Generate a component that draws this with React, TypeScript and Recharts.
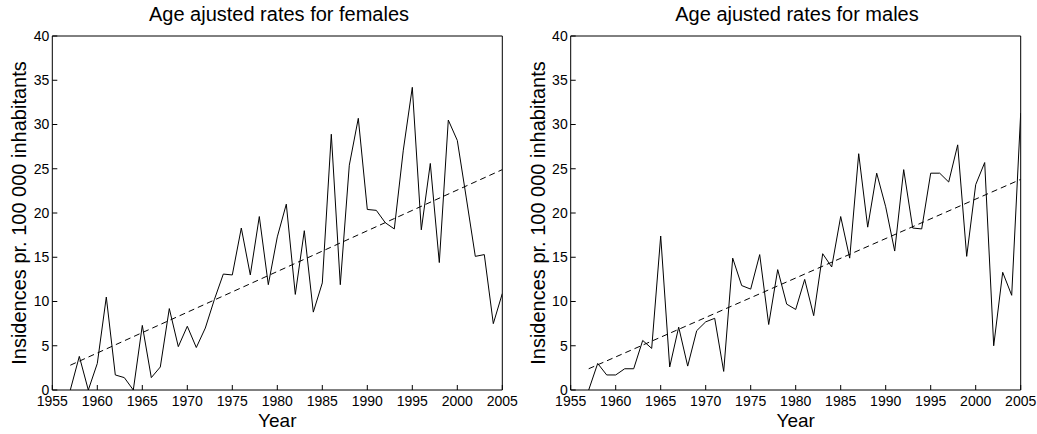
import React from 'react';
import { LineChart, Line, XAxis, YAxis } from 'recharts';

const years = [
  1957, 1958, 1959, 1960, 1961, 1962, 1963, 1964, 1965, 1966,
  1967, 1968, 1969, 1970, 1971, 1972, 1973, 1974, 1975, 1976,
  1977, 1978, 1979, 1980, 1981, 1982, 1983, 1984, 1985, 1986,
  1987, 1988, 1989, 1990, 1991, 1992, 1993, 1994, 1995, 1996,
  1997, 1998, 1999, 2000, 2001, 2002, 2003, 2004, 2005,
];

const femaleRates = [
  0, 3.8, 0, 3.0, 10.5, 1.7, 1.4, 0, 7.3, 1.4,
  2.6, 9.2, 4.9, 7.2, 4.8, 7.0, 10.2, 13.1, 13.0, 18.3,
  13.0, 19.6, 11.9, 17.3, 21.0, 10.8, 18.0, 8.8, 12.1, 28.9,
  11.9, 25.4, 30.7, 20.4, 20.3, 18.9, 18.2, 27.1, 34.2, 18.1,
  25.6, 14.4, 30.5, 28.2, 21.7, 15.1, 15.3, 7.5, 10.9,
];

const maleRates = [
  0, 3.0, 1.7, 1.7, 2.4, 2.4, 5.6, 4.7, 17.4, 2.6,
  7.1, 2.7, 6.7, 7.7, 8.1, 2.1, 14.9, 11.8, 11.4, 15.3,
  7.4, 13.6, 9.7, 9.1, 12.5, 8.4, 15.4, 13.9, 19.6, 14.9,
  26.7, 18.4, 24.5, 20.7, 15.7, 24.9, 18.3, 18.2, 24.5, 24.5,
  23.5, 27.7, 15.1, 23.2, 25.7, 5.0, 13.3, 10.7, 31.3,
];

const trendYears = [1957, 2005];
const femaleTrend = [2.8, 24.9];
const maleTrend = [2.4, 23.8];

const xTicks = [1955, 1960, 1965, 1970, 1975, 1980, 1985, 1990, 1995, 2000, 2005];
const yTicks = [0, 5, 10, 15, 20, 25, 30, 35, 40];

const titles = ['Age ajusted rates for females', 'Age ajusted rates for males'];
const xLabel = 'Year';
const yLabel = 'Insidences pr. 100 000 inhabitants';

const FONT = '"Liberation Sans", Arial, Helvetica, sans-serif';

function Panel({ values, trend, left, width, marginLeft, marginRight }: any) {
  const data = years.map((y, i) => ({ year: y, v: values[i] }));
  const tdata = trendYears.map((y, i) => ({ year: y, t: trend[i] }));
  const tickStyle = { fontSize: 14, fill: '#000', fontFamily: FONT };
  return (
    <div style={{ position: 'absolute', left, top: 0 }}>
      <LineChart
        width={width}
        height={434}
        margin={{ top: 35, right: marginRight, left: marginLeft, bottom: 4 }}
      >
        <XAxis
          type="number"
          dataKey="year"
          domain={[1955, 2005]}
          ticks={xTicks}
          allowDataOverflow
          height={40}
          tickSize={-5}
          tickMargin={11}
          tick={tickStyle}
          stroke="#000"
          axisLine={{ stroke: '#000' }}
          tickLine={{ stroke: '#000' }}
          interval={0}
        />
        <XAxis
          xAxisId="top"
          orientation="top"
          type="number"
          dataKey="year"
          domain={[1955, 2005]}
          ticks={xTicks}
          allowDataOverflow
          height={1}
          tickSize={-5}
          tick={false}
          stroke="#000"
          interval={0}
        />
        <YAxis
          type="number"
          domain={[0, 40]}
          ticks={yTicks}
          allowDataOverflow
          width={40}
          tickSize={-5}
          tickMargin={8}
          tick={tickStyle}
          stroke="#000"
          interval={0}
        />
        <YAxis
          yAxisId="right"
          orientation="right"
          type="number"
          domain={[0, 40]}
          ticks={yTicks}
          allowDataOverflow
          width={1}
          tickSize={-5}
          tick={false}
          stroke="#000"
          interval={0}
        />
        <Line
          data={data}
          dataKey="v"
          stroke="#000"
          strokeWidth={1}
          dot={false}
          activeDot={false}
          isAnimationActive={false}
          type="linear"
        />
        <Line
          data={tdata}
          dataKey="t"
          stroke="#000"
          strokeWidth={1}
          strokeDasharray="6 4"
          dot={false}
          activeDot={false}
          isAnimationActive={false}
          type="linear"
        />
      </LineChart>
    </div>
  );
}

export default function App() {
  const textStyle = { fontFamily: FONT, fill: '#000' } as any;
  return (
    <div style={{ position: 'absolute', left: 0, top: 0, width: 1037, height: 434, background: '#fff' }}>
      <Panel values={femaleRates} trend={femaleTrend} left={0} width={520} marginLeft={12.3} marginRight={16.7} />
      <Panel values={maleRates} trend={maleTrend} left={518} width={519} marginLeft={12.7} marginRight={15.3} />
      <svg
        width={1037}
        height={434}
        style={{ position: 'absolute', left: 0, top: 0, pointerEvents: 'none' }}
      >
        <text x={279} y={21} textAnchor="middle" fontSize={20} style={textStyle}>{titles[0]}</text>
        <text x={797} y={21} textAnchor="middle" fontSize={20} style={textStyle}>{titles[1]}</text>
        <text x={277.3} y={427} textAnchor="middle" fontSize={19} style={textStyle}>{xLabel}</text>
        <text x={795.7} y={427} textAnchor="middle" fontSize={19} style={textStyle}>{xLabel}</text>
        <text transform="translate(26,213) rotate(-90)" textAnchor="middle" fontSize={20} style={textStyle}>{yLabel}</text>
        <text transform="translate(544.5,213) rotate(-90)" textAnchor="middle" fontSize={20} style={textStyle}>{yLabel}</text>
      </svg>
    </div>
  );
}
